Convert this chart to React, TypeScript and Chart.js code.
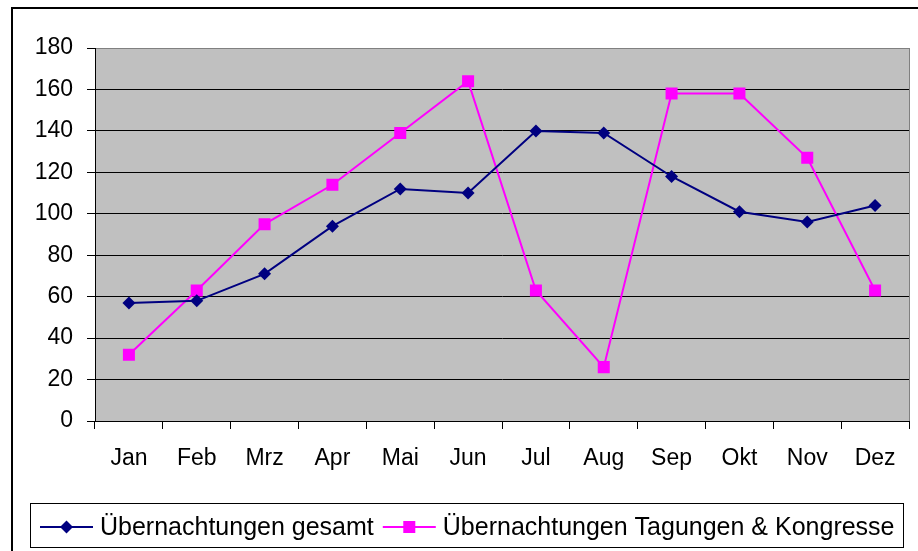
import React, { useEffect, useRef } from "react";
import { Chart, registerables } from "chart.js";

Chart.register(...registerables);

const months = ["Jan", "Feb", "Mrz", "Apr", "Mai", "Jun", "Jul", "Aug", "Sep", "Okt", "Nov", "Dez"];
const gesamt = [57, 58, 71, 94, 112, 110, 140, 139, 118, 101, 96, 104];
const tagungen = [32, 63, 95, 114, 139, 164, 63, 26, 158, 158, 127, 63];
const seriesNames = ["Übernachtungen gesamt", "Übernachtungen Tagungen & Kongresse"];
const yMin = 0;
const yMax = 180;
const yStep = 20;

const FONT = "'Liberation Sans', Arial, sans-serif";

function drawMarker(ctx: CanvasRenderingContext2D, style: string, x: number, y: number, r: number, color: string) {
  ctx.save();
  ctx.fillStyle = color;
  ctx.beginPath();
  if (style === "rectRot") {
    ctx.moveTo(x - r, y);
    ctx.lineTo(x, y - r);
    ctx.lineTo(x + r, y);
    ctx.lineTo(x, y + r);
    ctx.closePath();
  } else {
    const s = Math.SQRT1_2 * r;
    ctx.rect(x - s, y - s, 2 * s, 2 * s);
  }
  ctx.fill();
  ctx.restore();
}

const framePlugin = {
  id: "frame",
  beforeDraw(chart: any) {
    const { ctx, chartArea: a } = chart;
    ctx.save();
    ctx.fillStyle = "#ffffff";
    ctx.fillRect(0, 0, chart.width, chart.height);
    ctx.lineWidth = 2;
    ctx.strokeStyle = "#000000";
    ctx.strokeRect(12, 8, chart.width + 40, chart.height + 40);
    ctx.fillStyle = "#c0c0c0";
    ctx.fillRect(a.left, a.top, a.right - a.left, a.bottom - a.top);
    ctx.lineWidth = 1;
    ctx.strokeStyle = "#808080";
    ctx.strokeRect(Math.round(a.left) + 0.5, Math.round(a.top) + 0.5, Math.round(a.right - a.left), Math.round(a.bottom - a.top));
    ctx.restore();
  },
  afterDraw(chart: any) {
    const { ctx } = chart;
    ctx.save();
    // legend box
    ctx.fillStyle = "#ffffff";
    ctx.fillRect(30.5, 503.5, 873, 44);
    ctx.strokeStyle = "#000000";
    ctx.lineWidth = 1;
    ctx.strokeRect(30.5, 503.5, 873, 44);
    ctx.font = `25px ${FONT}`;
    ctx.textBaseline = "alphabetic";
    ctx.textAlign = "left";
    let x = 40;
    const ly = 527;
    chart.data.datasets.forEach((ds: any) => {
      ctx.strokeStyle = ds.borderColor;
      ctx.lineWidth = 2;
      ctx.beginPath();
      ctx.moveTo(x, ly);
      ctx.lineTo(x + 53, ly);
      ctx.stroke();
      drawMarker(ctx, ds.pointStyle, x + 26.5, ly, ds.pointRadius, ds.borderColor);
      ctx.fillStyle = "#000000";
      ctx.fillText(ds.label, x + 60, 535);
      const w = ctx.measureText(ds.label).width;
      x = x + 60 + w + 9;
    });
    ctx.restore();
  },
};

export default function App() {
  const ref = useRef<HTMLCanvasElement | null>(null);
  useEffect(() => {
    if (!ref.current) return;
    const chart = new Chart(ref.current, {
      type: "line",
      data: {
        labels: months,
        datasets: [
          {
            label: seriesNames[0],
            data: gesamt,
            borderColor: "#000080",
            backgroundColor: "#000080",
            borderWidth: 2,
            pointStyle: "rectRot",
            pointRadius: 6.5,
            pointBorderWidth: 0,
            tension: 0,
          },
          {
            label: seriesNames[1],
            data: tagungen,
            borderColor: "#ff00ff",
            backgroundColor: "#ff00ff",
            borderWidth: 2,
            pointStyle: "rect",
            pointRadius: 8.5,
            pointBorderWidth: 0,
            tension: 0,
          },
        ],
      },
      options: {
        responsive: false,
        animation: false,
        devicePixelRatio: 1,
        layout: { padding: { left: 0, top: 48, right: 9, bottom: 0 } },
        plugins: { legend: { display: false }, tooltip: { enabled: false } },
        scales: {
          x: {
            offset: true,
            grid: { offset: true, drawOnChartArea: false, tickLength: 8, color: "#000000", tickColor: "#000000" },
            border: { color: "#000000", width: 1 },
            ticks: { color: "#000000", font: { size: 23, family: FONT }, padding: 16, maxRotation: 0, autoSkip: false },
            afterFit(s: any) {
              s.height = 130;
            },
          },
          y: {
            min: yMin,
            max: yMax,
            ticks: { stepSize: yStep, color: "#000000", font: { size: 23, family: FONT }, padding: 14 },
            grid: {
              color: (c: any) => (c.tick && c.tick.value === yMax ? "#808080" : "#000000"),
              tickColor: "#000000",
              tickLength: 8,
              lineWidth: 1,
            },
            border: { color: "#000000", width: 1 },
            afterFit(s: any) {
              s.width = 95;
            },
          },
        },
      },
      plugins: [framePlugin],
    });
    return () => chart.destroy();
  }, []);
  return (
    <div style={{ position: "fixed", left: 0, top: 0, width: 918, height: 551, overflow: "hidden" }}>
      <canvas ref={ref} width={918} height={551} style={{ display: "block", width: 918, height: 551 }} />
    </div>
  );
}
